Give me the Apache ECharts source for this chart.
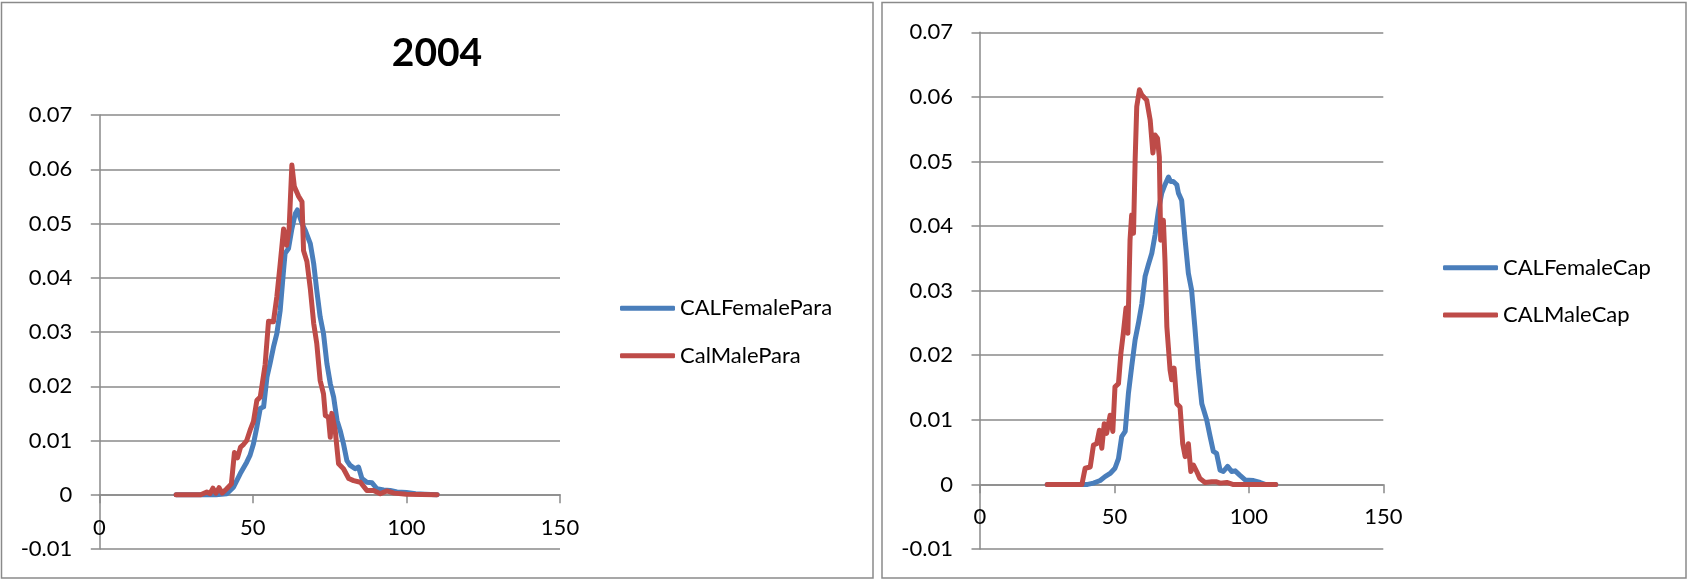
<!DOCTYPE html>
<html><head><meta charset="utf-8">
<script src="https://cdn.jsdelivr.net/npm/echarts@6/dist/echarts.min.js"></script>
<style>html,body{margin:0;padding:0;background:#fff}#c{width:1688px;height:579px}</style>
</head><body><div id="c"></div>
<script>
// X ticks and Y ticks
const xTicks = [0, 50, 100, 150];
const yTicks = [-0.01, 0, 0.01, 0.02, 0.03, 0.04, 0.05, 0.06, 0.07];
const leftTitle = '2004';

// Left chart: CALFemalePara
const femaleParaX = [25,30,35,38,41.5,43.7,45.9,48,49.1,50.2,51.3,52.4,53.5,54.6,55.6,56.7,57.8,58.9,60,60.5,61.6,62.7,63.8,64.5,66,67,68.7,69.8,70.8,71.9,73,74.1,75.2,76.3,77.4,78.4,79.5,80.6,81.7,83.3,84.4,85.5,87.1,88.8,90.4,92.6,94.7,96.9,100,103,106,110];
const femaleParaY = [0,0,0,0,0.0002,0.0014,0.0039,0.006,0.0073,0.0094,0.0125,0.0159,0.0162,0.0217,0.0242,0.0272,0.0297,0.034,0.0414,0.0445,0.0454,0.049,0.0518,0.0525,0.050,0.0488,0.0463,0.0426,0.0377,0.0328,0.0297,0.0242,0.0205,0.018,0.0137,0.0119,0.0094,0.0063,0.0054,0.0048,0.0051,0.003,0.0023,0.0022,0.0011,0.0009,0.0008,0.0005,0.0004,0.0002,0.0001,0];
// Left chart: CalMalePara
const maleParaX = [25,33,35,36,37,38,39,40,41.5,43,44,45,46,47,48,49.1,50.2,51.3,52.4,54,55.1,56.7,57.8,58.9,60,61,61.8,62.7,63.5,64.9,66,66.5,67.6,68.7,69.8,70.8,71.9,73,73.6,74.6,75.2,75.7,76.8,77.9,79.5,81.2,82.8,85,87.1,89.3,91.5,93.6,96,100,110];
const maleParaY = [0,0,0.0005,0.0002,0.0012,0.0003,0.0013,0.0003,0.0011,0.002,0.0078,0.0068,0.0088,0.0093,0.010,0.0119,0.0135,0.0174,0.018,0.024,0.032,0.0319,0.0365,0.0426,0.049,0.046,0.049,0.0608,0.0568,0.055,0.054,0.045,0.043,0.038,0.0316,0.0279,0.0211,0.0186,0.0146,0.0143,0.0106,0.015,0.0119,0.0057,0.0048,0.003,0.0026,0.0023,0.0008,0.0008,0.0002,0.0007,0.0003,0.0001,0];

// Right chart: CALFemaleCap
const femaleCapX = [25,40,42.2,44.7,46.5,48.4,50.2,51.5,52.7,54,55.2,56.4,57.7,58.9,60.2,61.4,62.6,63.9,65.1,66.4,67.6,68.8,70.1,70.9,71.9,73.2,73.8,75,76.3,77.5,78.7,79.9,81.2,82.5,84.3,85.6,86.8,88,89.3,90.5,92.1,93.6,94.9,96.7,98.6,101.7,104.2,106,110];
const femaleCapY = [0,0,0.0002,0.0006,0.0012,0.0017,0.0025,0.004,0.0074,0.0082,0.0141,0.0182,0.0224,0.0249,0.028,0.0322,0.034,0.0358,0.0386,0.0425,0.0451,0.0464,0.0476,0.0469,0.0469,0.0464,0.0451,0.044,0.0378,0.0327,0.0301,0.0244,0.0177,0.0125,0.01,0.0074,0.0051,0.0048,0.0022,0.002,0.0028,0.002,0.0021,0.0014,0.0007,0.0006,0.0003,0,0];
// Right chart: CALMaleCap
const maleCapX = [25,37.9,39.1,41,42.2,43.4,44.4,45.3,46.2,47.1,48.4,49.4,50.2,51.5,52.4,53.3,54.3,55,55.8,56.4,57.1,57.7,58.3,59.3,60.2,62,63.3,64.3,65.1,66,66.7,67.2,68.2,68.8,69.5,70.7,71.3,72.2,73.2,74.4,75.4,76.3,77.5,78.4,79.4,80.6,81.8,83.7,86.2,88,89.3,91.8,94,110];
const maleCapY = [0,0,0.0025,0.0027,0.0061,0.0063,0.0084,0.0056,0.0094,0.0079,0.0107,0.0082,0.0151,0.0156,0.0203,0.0234,0.0273,0.0234,0.0378,0.0417,0.0389,0.0502,0.0585,0.0611,0.0603,0.0595,0.0564,0.0513,0.0541,0.0536,0.0507,0.0378,0.0409,0.0347,0.0244,0.0177,0.0162,0.018,0.0125,0.012,0.0063,0.0043,0.0063,0.002,0.003,0.002,0.0009,0.0003,0.0004,0.0004,0.0002,0.0003,0,0];

const seriesNames = ['CALFemalePara','CalMalePara','CALFemaleCap','CALMaleCap'];
const BLUE = '#4A7EBB', RED = '#BE4B48', GRAY = '#8a8a8a';
const FONT = 'Lato, "Liberation Sans", sans-serif';

function pairs(xs, ys){ return xs.map((x,i)=>[x, ys[i]]); }
function fmtY(v){ const r = Math.round(v*100)/100; return r === 0 ? '0' : r.toFixed(2); }

const X_RANGE = {min:xTicks[0], max:xTicks[xTicks.length-1], interval:xTicks[1]-xTicks[0]};
// hidden x axis used by the series (main grids)
function xAxisHidden(gi){
  return Object.assign({type:'value', gridIndex:gi, show:false, splitLine:{show:false}}, X_RANGE);
}
// visible x axis drawn on the zero line (overlay grids)
function xAxisShown(gi, margin){
  return Object.assign({
    type:'value', gridIndex:gi, position:'bottom',
    axisLine:{show:true, onZero:false, lineStyle:{color:GRAY, width:1.5}},
    axisTick:{show:true, length:9, inside:false, lineStyle:{color:GRAY, width:1.5}},
    axisLabel:{margin:margin, color:'#000', fontFamily:FONT, fontSize:22},
    splitLine:{show:false}
  }, X_RANGE);
}
function yAxis(gi){
  return {
    type:'value', gridIndex:gi, min:yTicks[0], max:yTicks[yTicks.length-1], interval:0.01,
    axisLine:{show:true, onZero:false, lineStyle:{color:GRAY, width:1.5}},
    axisTick:{show:true, length:8.5, lineStyle:{color:GRAY, width:1.5}},
    axisLabel:{margin:27, color:'#000', fontFamily:FONT, fontSize:22, formatter:fmtY},
    splitLine:{show:true, lineStyle:{color:GRAY, width:1.5}}
  };
}
function yAxisHidden(gi){
  return {type:'value', gridIndex:gi, show:false, min:0, max:1, splitLine:{show:false}};
}
function line(name, gi, data, color){
  return {
    name:name, type:'line', xAxisIndex:gi, yAxisIndex:gi, data:data,
    symbol:'none', showSymbol:false, smooth:false,
    lineStyle:{color:color, width:5, cap:'round', join:'round'},
    itemStyle:{color:color}
  };
}
function legend(names, left, top){
  return {
    data:names, orient:'vertical', left:left, top:top, icon:'roundRect',
    itemWidth:55, itemHeight:5, itemGap:23.4,
    textStyle:{fontFamily:FONT, fontSize:22, color:'#000', lineHeight:24},
    padding:0
  };
}

const chart = echarts.init(document.getElementById('c'), null, {renderer:'canvas'});
chart.setOption({
  animation:false,
  backgroundColor:'#fff',
  grid:[
    {left:99.3, top:115, width:460.7, height:434, outerBoundsMode:'none', containLabel:false},
    {left:980, top:32.3, width:403.3, height:516.7, outerBoundsMode:'none', containLabel:false},
    // overlay grids ending on the zero line, carrying the visible x axes
    {left:99.3, top:115, width:460.7, height:379.3, outerBoundsMode:'none', containLabel:false},
    {left:980, top:32.3, width:403.3, height:452, outerBoundsMode:'none', containLabel:false}
  ],
  xAxis:[xAxisHidden(0), xAxisHidden(1), xAxisShown(2, 23), xAxisShown(3, 22)],
  yAxis:[yAxis(0), yAxis(1), yAxisHidden(2), yAxisHidden(3)],
  legend:[legend([seriesNames[0], seriesNames[1]], 620, 296.3), legend([seriesNames[2], seriesNames[3]], 1443, 255.7)],
  graphic:[
    {type:'rect', shape:{x:1.5, y:2.5, width:871.5, height:575.5}, style:{fill:null, stroke:GRAY, lineWidth:1.5}, silent:true, z:-1},
    {type:'rect', shape:{x:882, y:2.5, width:804, height:575.5}, style:{fill:null, stroke:GRAY, lineWidth:1.5}, silent:true, z:-1},
    {type:'text', x:437, y:53, style:{text:leftTitle, font:'bold 39px Lato, "Liberation Sans", sans-serif', fill:'#000', textAlign:'center', textVerticalAlign:'middle'}, silent:true}
  ],
  series:[
    line(seriesNames[0], 0, pairs(femaleParaX, femaleParaY), BLUE),
    line(seriesNames[1], 0, pairs(maleParaX, maleParaY), RED),
    line(seriesNames[2], 1, pairs(femaleCapX, femaleCapY), BLUE),
    line(seriesNames[3], 1, pairs(maleCapX, maleCapY), RED)
  ]
});
</script></body></html>
